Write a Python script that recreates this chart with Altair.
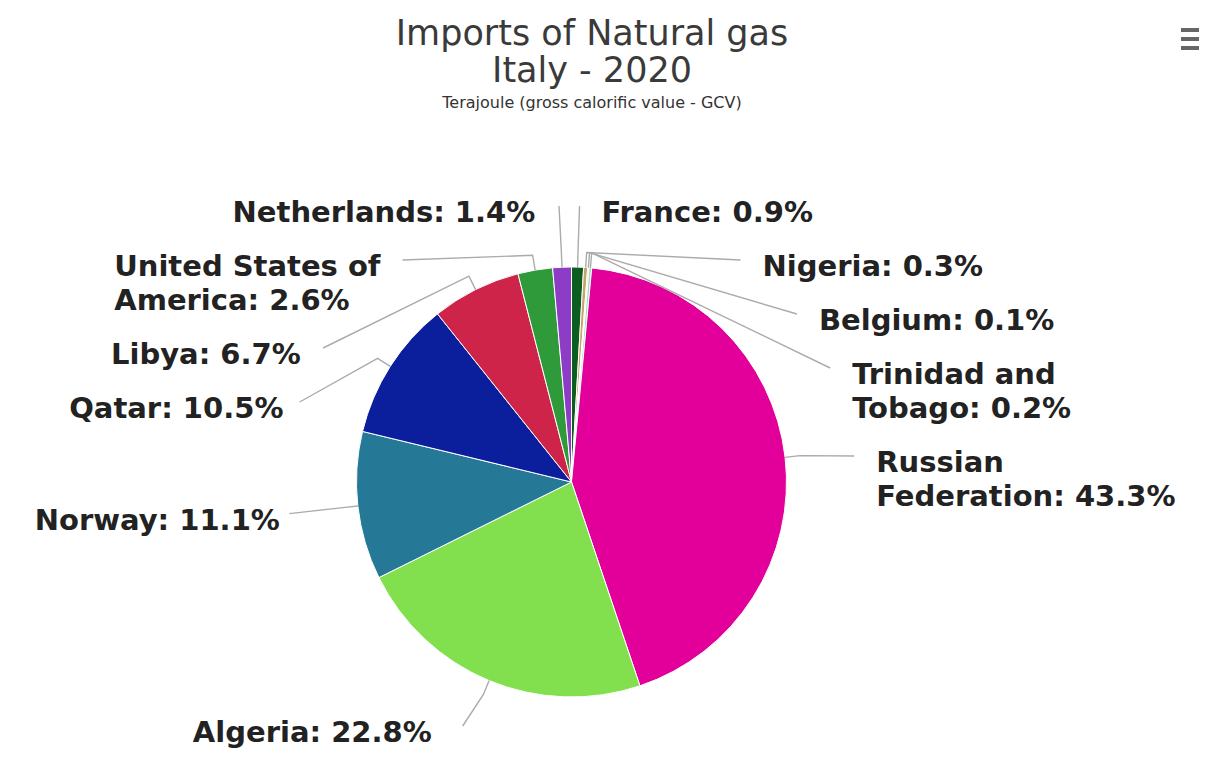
import math
import altair as alt
import pandas as pd

# ---- data ----
countries = ["France", "Nigeria", "Belgium", "Trinidad and Tobago", "Russian Federation",
             "Algeria", "Norway", "Qatar", "Libya", "United States of America", "Netherlands"]
shares = [0.9, 0.3, 0.1, 0.2, 43.3, 22.8, 11.1, 10.5, 6.7, 2.6, 1.4]
label_names = ["France", "Nigeria", "Belgium", "Trinidad and|Tobago", "Russian|Federation",
               "Algeria", "Norway", "Qatar", "Libya", "United States of|America", "Netherlands"]
colors = ["#0b5e1f", "#c9a46a", "#efe6a6", "#9fdcc8", "#e3009a",
          "#82e04f", "#257896", "#0b1e9c", "#cf2449", "#2f9a3a", "#8d3cc6"]

title_lines = ["Imports of Natural gas", "Italy - 2020"]
subtitle = "Terajoule (gross calorific value - GCV)"

# ---- layout parameters (view coordinates, origin at page 8,8) ----
W, H = 1191, 744
CX, CY = 563.5, 474.0
R = 215.0           # pie radius
RL = R + 69.0       # label ring radius
SB = 15.0           # connector break outside the pie
TOP = CY - 276.0
BOTTOM = CY + 244.0
LINE_H = 34.0
GAP = 22.0
FONT = "DejaVu Sans"
FS = 29

# approximate advance widths (em/1000) of DejaVu Sans Bold, for left-aligning wrapped labels
ADV = {"U": 812, "n": 712, "i": 343, "t": 478, "e": 678, "d": 716, " ": 348, "S": 720,
       "a": 675, "s": 595, "o": 687, "f": 435, "A": 774, "m": 1042, "r": 493, "c": 593,
       ":": 400, ".": 380, "%": 1002, "T": 682, "b": 716, "g": 716, "R": 770, "F": 575,
       "0": 696, "1": 696, "2": 696, "3": 696, "4": 696, "5": 696, "6": 696, "7": 696,
       "8": 696, "9": 696}


def text_width(s):
    return sum(ADV.get(ch, 650) for ch in s) / 1000.0 * FS


total = sum(shares)
mids = []
cum = 0.0
for s in shares:
    mids.append((cum + s / 2.0) / total * 2 * math.pi)
    cum += s

pie_df = pd.DataFrame({"country": countries, "share": shares, "idx": list(range(len(countries)))})

# label layout: natural positions on the label ring, pushed down to avoid overlap
items = []
for i, (name, s, a) in enumerate(zip(label_names, shares, mids)):
    lines = name.split("|")
    lines[-1] = lines[-1] + f": {s:.1f}%"
    side = "right" if math.sin(a) >= 0 else "left"
    nat = CY - RL * math.cos(a)
    items.append({"i": i, "lines": lines, "side": side, "nat": nat, "a": a})

for side in ("right", "left"):
    group = sorted([it for it in items if it["side"] == side], key=lambda d: d["nat"])
    prev_end = TOP
    for k, it in enumerate(group):
        y = max(it["nat"], prev_end)
        clamped = (k == 0 and it["nat"] < TOP)
        if y > BOTTOM:
            y = BOTTOM
            clamped = True
        it["ay"] = y
        it["clamped"] = clamped
        prev_end = y + 20 + LINE_H * len(it["lines"])

text_rows = []
conn_rows = []
for it in items:
    a = it["a"]
    right = it["side"] == "right"
    sgn = 1 if right else -1
    if it["clamped"]:
        dy = it["nat"] - CY
    else:
        dy = (it["ay"] - CY) * 1.028
    dx = math.sqrt(max(RL * RL - dy * dy, 0.0))
    ax = CX + sgn * dx
    ay = it["ay"]
    if right:
        xl = ax + GAP
    else:
        xl = ax - GAP - max(text_width(ln) for ln in it["lines"])
    for k, ln in enumerate(it["lines"]):
        text_rows.append({"country": countries[it["i"]], "text": ln,
                          "x": xl, "y": ay + 7 + k * LINE_H})
    sx = CX + (R + SB) * math.sin(a)
    sy = CY - (R + SB) * math.cos(a)
    bx = CX + R * math.sin(a)
    by = CY - R * math.cos(a)
    for k, (px, py) in enumerate([(ax, ay), (sx, sy), (bx, by)]):
        conn_rows.append({"country": countries[it["i"]], "k": k, "x": px, "y": py})

text_df = pd.DataFrame(text_rows)
conn_df = pd.DataFrame(conn_rows)

pie = alt.Chart(pie_df).mark_arc(radius=R, stroke="white", strokeWidth=1).encode(
    theta=alt.Theta("share:Q", stack=True),
    color=alt.Color("country:N", scale=alt.Scale(domain=countries, range=colors), legend=None),
    order=alt.Order("idx:Q"),
    x=alt.value(CX),
    y=alt.value(CY),
)

connectors = alt.Chart(conn_df).mark_line(color="#ababab", strokeWidth=1.4).encode(
    x=alt.X("x:Q", scale=None, axis=None),
    y=alt.Y("y:Q", scale=None, axis=None),
    detail="country:N",
    order="k:Q",
)

labels = alt.Chart(text_df).mark_text(
    align="left", font=FONT, fontSize=FS, fontWeight="bold", color="#222222", baseline="middle"
).encode(
    x=alt.X("x:Q", scale=None, axis=None),
    y=alt.Y("y:Q", scale=None, axis=None),
    text="text:N",
)

one = alt.Data(values=[{}])
t1 = alt.Chart(one).mark_text(font=FONT, fontSize=35, color="#3a3a3a", baseline="middle").encode(
    x=alt.value(584), y=alt.value(26), text=alt.value(title_lines[0]))
t2 = alt.Chart(one).mark_text(font=FONT, fontSize=35, color="#3a3a3a", baseline="middle").encode(
    x=alt.value(584), y=alt.value(63), text=alt.value(title_lines[1]))
t3 = alt.Chart(one).mark_text(font=FONT, fontSize=16, color="#333333", baseline="middle").encode(
    x=alt.value(584), y=alt.value(95), text=alt.value(subtitle))

menu = [alt.Chart(one).mark_rule(color="#666666", strokeWidth=4).encode(
    x=alt.value(1173), x2=alt.value(1191), y=alt.value(yy)) for yy in (22, 31, 40)]

chart = alt.layer(pie, connectors, labels, t1, t2, t3, *menu).properties(
    width=W, height=H, autosize=alt.AutoSizeParams(type="none"), padding=0
).configure_view(stroke=None)

chart.save("out.html", embed_options={"renderer": "svg", "actions": False})
